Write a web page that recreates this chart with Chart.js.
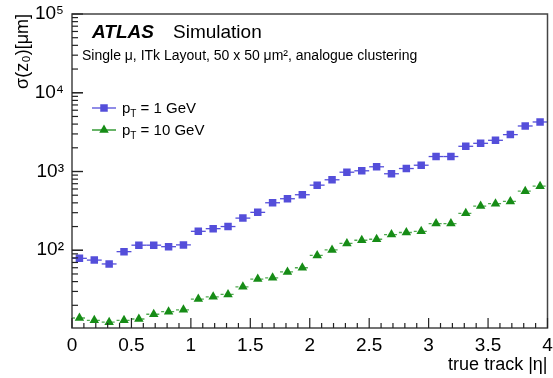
<!DOCTYPE html>
<html>
<head>
<meta charset="utf-8">
<script src="https://cdn.jsdelivr.net/npm/chart.js@4"></script>
<style>
  body { margin: 0; background: #fff; }
  canvas { display: block; }
</style>
</head>
<body>
<canvas id="sigmaChart" width="553" height="378"></canvas>
<script>
// bin centres in |eta| (bins of 0.125)
const eta = [0.0625, 0.1875, 0.3125, 0.4375, 0.5625, 0.6875, 0.8125, 0.9375,
             1.0625, 1.1875, 1.3125, 1.4375, 1.5625, 1.6875, 1.8125, 1.9375,
             2.0625, 2.1875, 2.3125, 2.4375, 2.5625, 2.6875, 2.8125, 2.9375,
             3.0625, 3.1875, 3.3125, 3.4375, 3.5625, 3.6875, 3.8125, 3.9375];
const binHalfWidth = 0.0625;

// sigma(z0) in um
const pt1 = [79, 75, 67, 96, 116, 116, 111, 117,
             174, 188, 200, 256, 303, 401, 451, 507,
             671, 785, 980, 1021, 1148, 936, 1091, 1202,
             1549, 1549, 2090, 2280, 2490, 2940, 3785, 4255];
const pt10 = [13.8, 12.9, 12.2, 12.9, 13.4, 15.4, 16.6, 17.5,
              24, 25.6, 27.5, 34.3, 43, 44.6, 53, 60,
              86, 101, 122, 134, 138, 158, 168, 174,
              218, 218, 294, 364, 390, 417, 563, 651];

const xTicks = ['0', '0.5', '1', '1.5', '2', '2.5', '3', '3.5', '4'];
const yTickLabels = {100: '10²', 1000: '10³', 10000: '10⁴', 100000: '10⁵'};

const blue = 'rgb(84, 78, 218)';
const green = 'rgb(22, 140, 22)';
const font = '"Liberation Sans", Arial, Helvetica, sans-serif';

function toPoints(vals) {
  return eta.map((x, i) => ({x: x, y: vals[i]}));
}

// horizontal error bars (bin width)
const errorBars = {
  id: 'errorBars',
  beforeDatasetsDraw(chart) {
    const ctx = chart.ctx;
    const xs = chart.scales.x, ys = chart.scales.y;
    chart.data.datasets.forEach((ds) => {
      ctx.save();
      ctx.strokeStyle = ds.borderColor;
      ctx.lineWidth = 1.3;
      ctx.setLineDash(ds.errDash);
      ds.data.forEach((p) => {
        const y = ys.getPixelForValue(p.y);
        ctx.beginPath();
        ctx.moveTo(xs.getPixelForValue(p.x - binHalfWidth), y);
        ctx.lineTo(xs.getPixelForValue(p.x + binHalfWidth), y);
        ctx.stroke();
      });
      ctx.restore();
    });
  }
};

// ROOT-style frame with ticks pointing inwards, plus ATLAS labels and legend
const atlasDecor = {
  id: 'atlasDecor',
  afterDraw(chart) {
    const ctx = chart.ctx;
    const a = chart.chartArea;
    const xs = chart.scales.x, ys = chart.scales.y;
    ctx.save();

    // frame
    ctx.strokeStyle = '#444';
    ctx.lineWidth = 1.5;
    ctx.strokeRect(a.left, a.top, a.right - a.left, a.bottom - a.top);

    // x ticks
    ctx.strokeStyle = '#222';
    ctx.lineWidth = 1.2;
    for (let i = 0; i <= 40; i++) {
      const px = xs.getPixelForValue(i / 10);
      const len = i % 5 === 0 ? 10 : 5;
      ctx.beginPath();
      ctx.moveTo(px, a.bottom);
      ctx.lineTo(px, a.bottom - len);
      ctx.stroke();
    }
    // y ticks
    for (let d = 1; d <= 4; d++) {
      for (let k = 1; k <= 10; k++) {
        const v = k * Math.pow(10, d);
        if (v < ys.min || v > ys.max) continue;
        const py = ys.getPixelForValue(v);
        const len = (k === 1 || k === 10) ? 11 : 6;
        ctx.beginPath();
        ctx.moveTo(a.left, py);
        ctx.lineTo(a.left + len, py);
        ctx.stroke();
      }
    }

    // ATLAS label
    ctx.fillStyle = '#000';
    ctx.textBaseline = 'alphabetic';
    ctx.textAlign = 'left';
    ctx.font = 'italic bold 19px ' + font;
    ctx.fillText('ATLAS', 92, 38);
    ctx.font = '19px ' + font;
    ctx.fillText('Simulation', 173, 38);
    ctx.font = '14px ' + font;
    ctx.fillText('Single μ, ITk Layout, 50 x 50 μm², analogue clustering', 82, 60);

    // legend
    const entries = [
      {color: blue, style: 'rect', r: 5.3, y: 108, label: ' = 1 GeV'},
      {color: green, style: 'triangle', r: 5.5, y: 130, label: ' = 10 GeV'}
    ];
    entries.forEach((e) => {
      ctx.strokeStyle = e.color;
      ctx.lineWidth = 1.3;
      ctx.beginPath();
      ctx.moveTo(92, e.y);
      ctx.lineTo(116, e.y);
      ctx.stroke();
      ctx.fillStyle = e.color;
      Chart.helpers.drawPoint(ctx, {pointStyle: e.style, radius: e.r, borderWidth: 0}, 104, e.y);
      ctx.fillStyle = '#000';
      ctx.font = '15px ' + font;
      ctx.fillText('p', 122, e.y + 5);
      const pw = ctx.measureText('p').width;
      ctx.font = '10px ' + font;
      ctx.fillText('T', 122 + pw, e.y + 9);
      const tw = ctx.measureText('T').width;
      ctx.font = '15px ' + font;
      ctx.fillText(e.label, 122 + pw + tw, e.y + 5);
    });
    ctx.restore();
  }
};

new Chart(document.getElementById('sigmaChart'), {
  type: 'line',
  data: {
    datasets: [
      {
        label: 'pT = 1 GeV',
        data: toPoints(pt1),
        showLine: false,
        pointStyle: 'rect',
        pointRadius: 5.3,
        pointBorderWidth: 0,
        backgroundColor: blue,
        borderColor: blue,
        errDash: []
      },
      {
        label: 'pT = 10 GeV',
        data: toPoints(pt10),
        showLine: false,
        pointStyle: 'triangle',
        pointRadius: 5.5,
        pointBorderWidth: 0,
        backgroundColor: green,
        borderColor: 'rgba(22, 140, 22, 0.75)',
        errDash: [3, 2]
      }
    ]
  },
  options: {
    responsive: false,
    animation: false,
    devicePixelRatio: 1,
    layout: {padding: {left: 0, top: 14, right: 3, bottom: 0}},
    plugins: {
      legend: {display: false},
      tooltip: {enabled: false}
    },
    scales: {
      x: {
        type: 'linear',
        min: 0,
        max: 4,
        grid: {display: false, drawTicks: false},
        border: {display: false},
        ticks: {
          stepSize: 0.5,
          padding: 6,
          color: '#000',
          font: {family: font, size: 19},
          maxRotation: 0,
          callback: (v) => xTicks[Math.round(v * 2)]
        },
        title: {
          display: true,
          text: 'true track |η|',
          align: 'end',
          color: '#000',
          font: {family: font, size: 18},
          padding: {top: 0, bottom: 2}
        },
        afterFit: (s) => { s.height = 50; s.paddingLeft = 0; s.paddingRight = 0; }
      },
      y: {
        type: 'logarithmic',
        min: 10.3,
        max: 100000,
        grid: {display: false, drawTicks: false},
        border: {display: false},
        ticks: {
          autoSkip: false,
          padding: 8,
          color: '#000',
          font: {family: font, size: 19},
          callback: (v) => yTickLabels[v] || ''
        },
        title: {
          display: true,
          text: 'σ(z₀)[μm]',
          align: 'end',
          color: '#000',
          font: {family: font, size: 18},
          padding: {top: 12, bottom: 0}
        },
        afterFit: (s) => { s.width = 72; s.paddingTop = 0; s.paddingBottom = 0; }
      }
    }
  },
  plugins: [errorBars, atlasDecor]
});
</script>
</body>
</html>
